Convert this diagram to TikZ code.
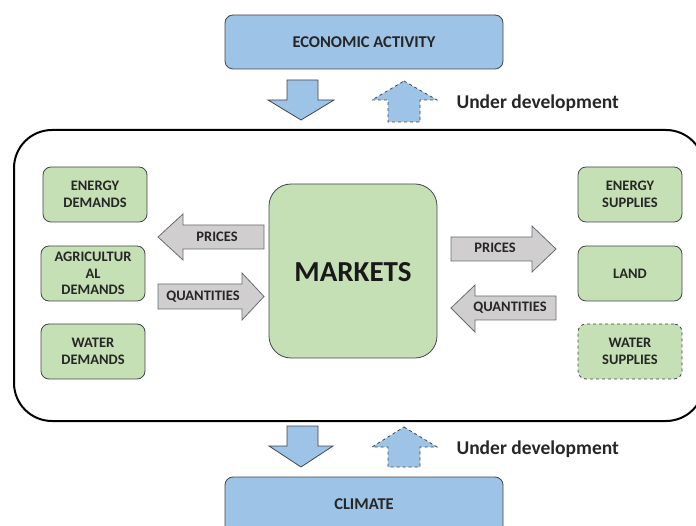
\documentclass[tikz,border=0pt]{standalone}
\usepackage{fontspec}
\setmainfont{Carlito}
\definecolor{bluefill}{HTML}{9DC3E6}
\definecolor{greenfill}{HTML}{C5E0B4}
\definecolor{greyfill}{HTML}{D0CECE}
\definecolor{edge}{HTML}{41464D}
\begin{document}
\begin{tikzpicture}[x=1pt,y=-1pt,
  lbl/.style={font=\fontsize{14.5}{17}\selectfont\bfseries, text=black!85, align=center},
  biglbl/.style={font=\fontsize{16.5}{19}\selectfont\bfseries, text=black!85, align=center},
  bluebox/.style={draw=edge, line width=0.8pt, fill=bluefill, rounded corners=8pt, minimum width=278pt, inner sep=0pt, biglbl},
  greenbox/.style={draw=edge, line width=0.8pt, fill=greenfill, rounded corners=8pt, minimum width=104pt, minimum height=55pt, inner sep=0pt, lbl},
  greyarrow/.style={draw=edge!80, line width=0.8pt, fill=greyfill},
  bluearrow/.style={draw=edge, line width=0.8pt, fill=bluefill},
  devtext/.style={font=\fontsize{19.5}{22}\selectfont\bfseries, text=black!85, anchor=west}]
\useasboundingbox (0,0) rectangle (696,526);
% frame
\draw[line width=2pt, rounded corners=38pt] (14,130) rectangle (704,421);
% top / bottom boxes
\node[bluebox, minimum height=54pt] (econ) at (364,42) {ECONOMIC ACTIVITY};
\node[bluebox, minimum height=58pt] (climate) at (364,506) {};
\node[biglbl] (climatetxt) at (364,504) {CLIMATE};
% markets
\node[draw=edge, line width=0.8pt, fill=greenfill, rounded corners=22pt, minimum width=168pt, minimum height=174pt, inner sep=0pt] (markets) at (353,271) {};
\node[font=\fontsize{29}{31}\selectfont\bfseries, text=black!90] (marketstxt) at (353,272) {MARKETS};
% left boxes
\node[greenbox] (edem) at (95,194.5) {ENERGY\\DEMANDS};
\node[greenbox, font=\fontsize{14.5}{16.5}\selectfont\bfseries] (adem) at (93,273.5) {AGRICULTUR\\AL\\DEMANDS};
\node[greenbox] (wdem) at (93,351.5) {WATER\\DEMANDS};
% right boxes
\node[greenbox] (esup) at (630,194.5) {ENERGY\\SUPPLIES};
\node[greenbox] (land) at (630,273.5) {LAND};
\node[greenbox, dashed] (wsup) at (630,351.5) {WATER\\SUPPLIES};
% grey arrows
\draw[greyarrow] (158,237) -- (183,214) -- (183,225) -- (264,225) -- (264,249) -- (183,249) -- (183,260) -- cycle;
\node[lbl] (lprices) at (217,237) {PRICES};
\draw[greyarrow] (158,284) -- (242,284) -- (242,273) -- (264,296.5) -- (242,320) -- (242,309) -- (158,309) -- cycle;
\node[lbl] (lquant) at (203,296.5) {QUANTITIES};
\draw[greyarrow] (451,237) -- (532,237) -- (532,226) -- (556,249) -- (532,272) -- (532,261) -- (451,261) -- cycle;
\node[lbl] (rprices) at (495,248) {PRICES};
\draw[greyarrow] (451,308) -- (475,285) -- (475,296) -- (556,296) -- (556,320) -- (475,320) -- (475,332) -- cycle;
\node[lbl] (rquant) at (510,307.5) {QUANTITIES};
% blue arrows top
\draw[bluearrow] (287,80) -- (318,80) -- (318,100) -- (334,100) -- (301,120) -- (268,100) -- (287,100) -- cycle;
\draw[bluearrow, dashed] (404,81) -- (437,100) -- (420,100) -- (420,122) -- (388,122) -- (388,100) -- (372,100) -- cycle;
\node[devtext] (dev1) at (453,103) {Under development};
% blue arrows bottom
\draw[bluearrow] (287,426) -- (318,426) -- (318,446) -- (333,446) -- (301,467) -- (269,446) -- (287,446) -- cycle;
\draw[bluearrow, dashed] (404,427) -- (437,447) -- (420,447) -- (420,467) -- (388,467) -- (388,447) -- (372,447) -- cycle;
\node[devtext] (dev2) at (453,449) {Under development};
\end{tikzpicture}
\end{document}
